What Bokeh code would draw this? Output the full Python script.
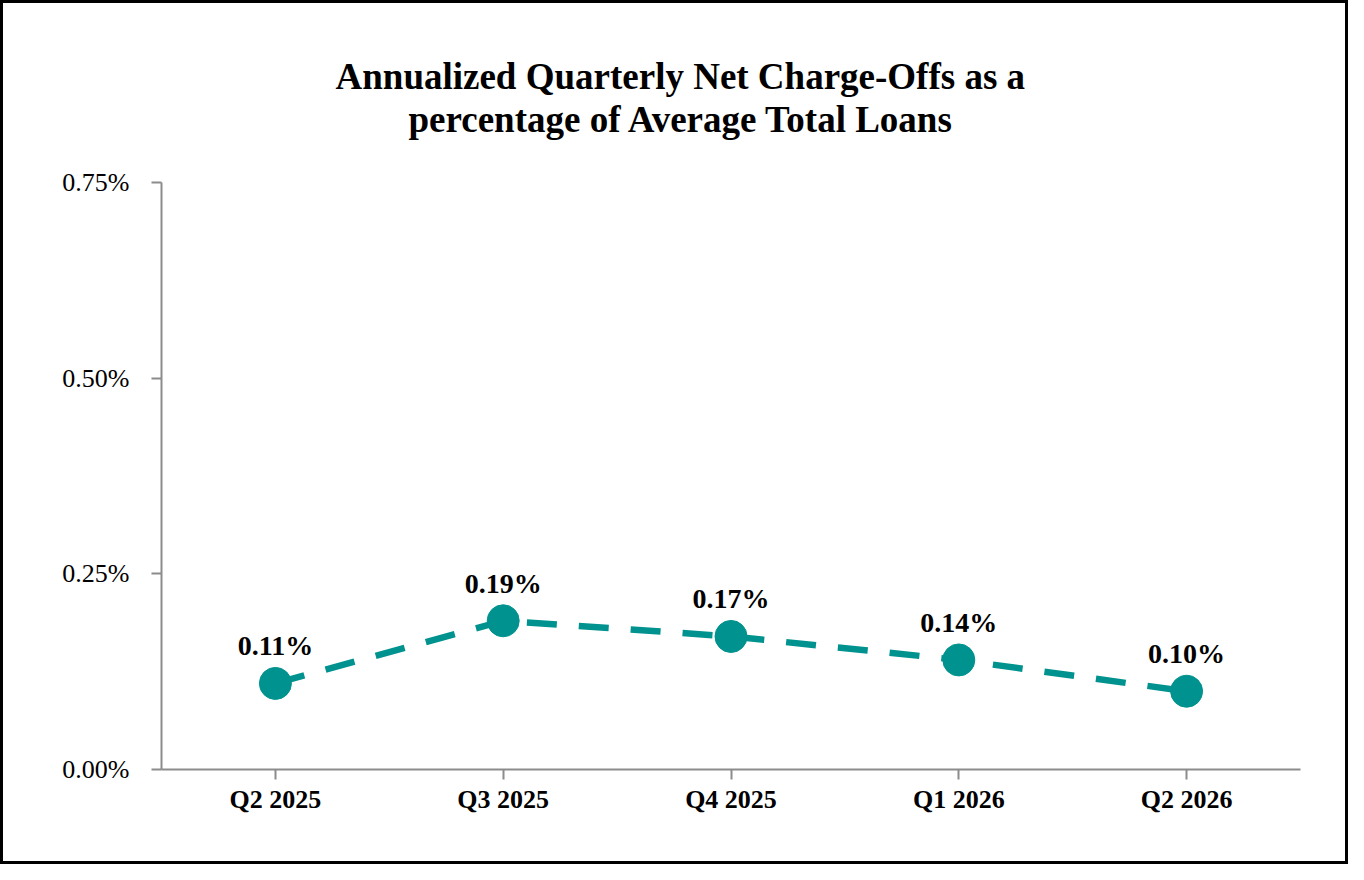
from bokeh.plotting import figure
from bokeh.models import ColumnDataSource, FactorRange, Range1d, FixedTicker, LabelSet, Title
from bokeh.embed import file_html
from bokeh.resources import INLINE

quarters = ["Q2 2025", "Q3 2025", "Q4 2025", "Q1 2026", "Q2 2026"]
nco_pct = [0.11, 0.19, 0.17, 0.14, 0.10]
y_ticks = [0.0, 0.25, 0.5, 0.75]
y_tick_labels = {0.0: "0.00%", 0.25: "0.25%", 0.5: "0.50%", 0.75: "0.75%"}
title_lines = ["Annualized Quarterly Net Charge-Offs as a", "percentage of Average Total Loans"]

TEAL = "#00928F"
GREY = "#8c8c8c"
SERIF = "Liberation Serif"

src = ColumnDataSource(dict(q=quarters, v=nco_pct, lbl=[f"{v:.2f}%" for v in nco_pct]))

p = figure(
    x_range=FactorRange(*quarters, range_padding=0),
    y_range=Range1d(0, 0.75),
    width=1348, height=864,
    output_backend="svg", toolbar_location=None,
    min_border_left=158, min_border_right=51, min_border_bottom=98, min_border_top=179,
)
p.styles = {"border": "3px solid black"}

title_style = dict(align="left", standoff=0, text_font=SERIF, text_font_size="37px",
                   text_font_style="bold", text_color="black")
# blank spacer between the title block and the plot area
p.add_layout(Title(text=" ", **title_style), "above")
p.add_layout(Title(text=title_lines[1], offset=247, **{k: v for k, v in title_style.items()}), "above")
p.add_layout(Title(text=title_lines[0], offset=174, **{k: v for k, v in title_style.items()}), "above")

p.line("q", "v", source=src, line_color=TEAL, line_width=6.5, line_dash="30 22")
p.scatter("q", "v", source=src, size=32, fill_color=TEAL, line_color=TEAL)

labels = LabelSet(x="q", y="v", text="lbl", source=src, y_offset=28,
                  text_align="center", text_baseline="alphabetic",
                  text_font=SERIF, text_font_size="28px", text_font_style="bold",
                  text_color="black")
p.add_layout(labels)

p.xgrid.visible = False
p.ygrid.visible = False
p.outline_line_color = None

p.yaxis.ticker = FixedTicker(ticks=y_ticks)
p.yaxis.major_label_overrides = y_tick_labels
p.yaxis.minor_tick_line_color = None
p.yaxis.major_tick_in = 0
p.yaxis.major_tick_out = 10
p.yaxis.major_label_standoff = 22

p.xaxis.major_tick_in = 0
p.xaxis.major_tick_out = 10
p.xaxis.major_label_standoff = 5

for ax in (p.xaxis, p.yaxis):
    ax.axis_line_color = GREY
    ax.axis_line_width = 2
    ax.major_tick_line_color = GREY
    ax.major_tick_line_width = 2
    ax.major_label_text_font = SERIF
    ax.major_label_text_font_size = "26px"
    ax.major_label_text_color = "black"

p.xaxis.major_label_text_font_style = "bold"

open("out.html", "w").write(file_html(p, INLINE))
